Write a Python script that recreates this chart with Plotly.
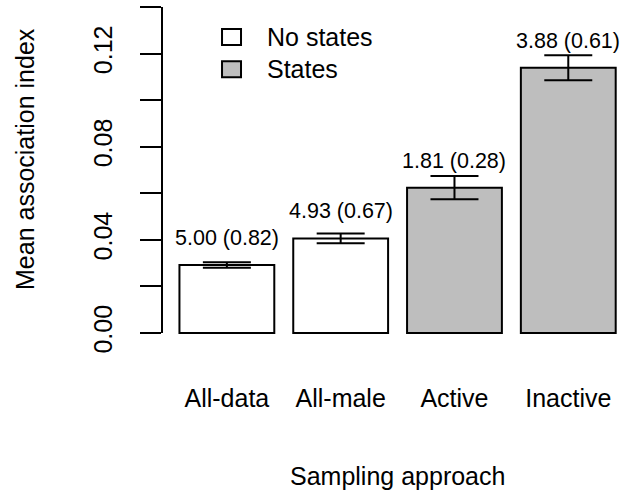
import plotly.graph_objects as go

# Mean association index per sampling approach, with standard errors
approaches = ["All-data", "All-male", "Active", "Inactive"]
mean_index = [0.0292, 0.0406, 0.0624, 0.1139]
std_err = [0.0012, 0.0021, 0.0050, 0.0054]
bar_labels = ["5.00 (0.82)", "4.93 (0.67)", "1.81 (0.28)", "3.88 (0.61)"]
state_group = ["No states", "No states", "States", "States"]
group_fill = {"No states": "#FFFFFF", "States": "#BEBEBE"}

y_ticks = [0.00, 0.02, 0.04, 0.06, 0.08, 0.10, 0.12, 0.14]
y_tick_text = ["0.00", "", "0.04", "", "0.08", "", "0.12", ""]

# barplot-style positions: width 1, gap 0.2
bar_pos = [0.7 + 1.2 * i for i in range(len(approaches))]

FONT = "Liberation Sans, Arial, sans-serif"

fig = go.Figure()
for grp in ["No states", "States"]:
    idx = [i for i, g in enumerate(state_group) if g == grp]
    fig.add_trace(go.Bar(
        x=[bar_pos[i] for i in idx],
        y=[mean_index[i] for i in idx],
        width=1.0,
        name=grp,
        marker=dict(color=group_fill[grp], line=dict(color="black", width=2)),
        error_y=dict(type="data", array=[std_err[i] for i in idx],
                     color="black", thickness=2, width=24),
        showlegend=False,
    ))

# value labels above each bar
for xp, m, txt in zip(bar_pos, mean_index, bar_labels):
    fig.add_annotation(x=xp, y=m, xref="x", yref="y", text=txt,
                       showarrow=False, yanchor="middle", yshift=27,
                       font=dict(size=21.5, color="black", family=FONT))

# y axis line spanning only the tick range
fig.add_shape(type="line", xref="paper", yref="y", x0=0, x1=0,
              y0=y_ticks[0], y1=y_ticks[-1],
              line=dict(color="black", width=2))

# legend drawn as boxes + text
leg_rows = [(0.893, "No states"), (0.800, "States")]
for yc, grp in leg_rows:
    fig.add_shape(type="rect", xref="paper", yref="paper",
                  x0=0.1302, x1=0.1714, y0=yc - 0.023, y1=yc + 0.023,
                  fillcolor=group_fill[grp], line=dict(color="black", width=2))
    fig.add_annotation(x=0.2234, y=yc, xref="paper", yref="paper", text=grp,
                       showarrow=False, xanchor="left", yanchor="middle",
                       font=dict(size=25, color="black", family=FONT))

# axis titles
fig.add_annotation(x=0.5108, y=-0.3757, xref="paper", yref="paper",
                   text="Sampling approach", showarrow=False,
                   xanchor="center", yanchor="middle",
                   font=dict(size=25, color="black", family=FONT))
fig.add_annotation(x=-0.2972, y=0.5405, xref="paper", yref="paper",
                   text="Mean association index", showarrow=False,
                   textangle=-90, xanchor="center", yanchor="middle",
                   font=dict(size=25, color="black", family=FONT))

fig.update_layout(
    width=623, height=495,
    margin=dict(l=162, r=0, t=0, b=149),
    paper_bgcolor="white", plot_bgcolor="white",
    barmode="overlay",
    xaxis=dict(range=[0.016, 4.877], tickvals=bar_pos, ticktext=approaches,
               showline=False, showgrid=False, zeroline=False, ticks="",
               tickfont=dict(size=25, color="black", family=FONT),
               ticklabelstandoff=35),
    yaxis=dict(range=[-0.005583, 0.14301], tickvals=y_ticks, ticktext=y_tick_text,
               showline=False, showgrid=False, zeroline=False,
               ticks="outside", ticklen=21, tickwidth=2, tickcolor="black",
               tickangle=-90, ticklabelstandoff=18,
               tickfont=dict(size=25, color="black", family=FONT)),
    font=dict(family=FONT, color="black"),
)

fig.write_html("out.html")
